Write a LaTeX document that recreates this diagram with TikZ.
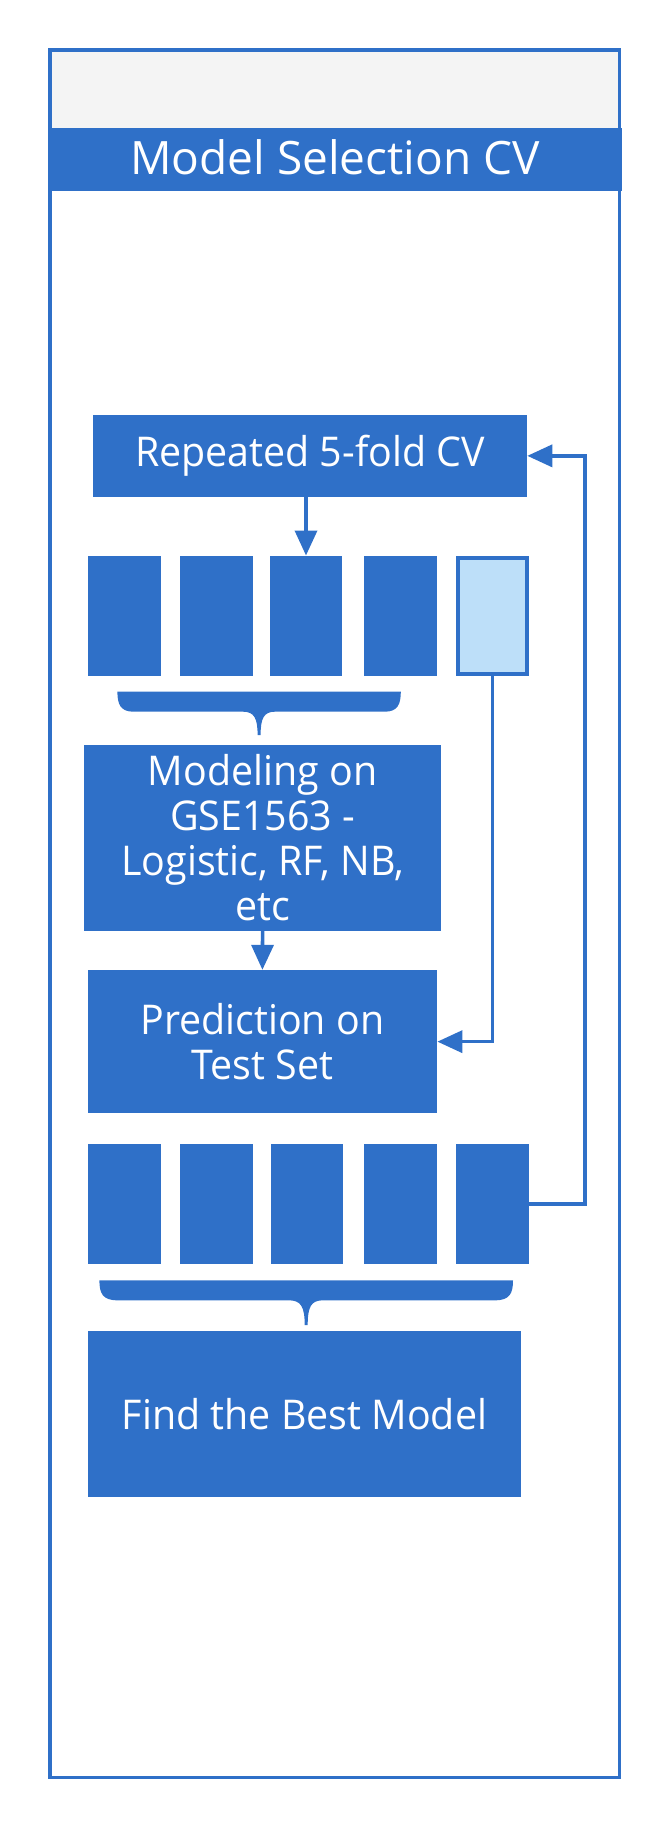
\documentclass[tikz,border=0pt]{standalone}
\usepackage{fontspec}
\setmainfont{Open Sans}
\newfontfamily\boxfont[FakeStretch=0.96]{Open Sans}
\usetikzlibrary{arrows.meta}
\definecolor{vblue}{HTML}{2F70C8}
\definecolor{vlight}{HTML}{BDDFF9}
\definecolor{vgray}{HTML}{F4F4F4}
\begin{document}
\begin{tikzpicture}[x=1pt,y=-1pt,
  blk/.style={fill=vblue, inner sep=0pt, text=white, align=center,
    font=\boxfont\fontsize{41}{45}\selectfont},
  fold/.style={fill=vblue, minimum width=72.4pt, minimum height=120pt, inner sep=0pt},
  testfold/.style={fill=vlight, draw=vblue, line width=4pt, minimum width=68.4pt, minimum height=116pt, inner sep=0pt},
  conn/.style={draw=vblue, line width=3.6pt, -{Triangle[length=25pt,width=22pt]}}]
\useasboundingbox (0,0) rectangle (670,1830);
% frame
\fill[vgray] (52,52) rectangle (617.5,127.7);
\fill[vblue] (48,127.7) rectangle (621.5,190.7);
\draw[vblue, line width=3.8pt] (50,50.2) rectangle (619.5,1777.4);
\node[text=white, anchor=base, font=\fontsize{46}{50}\selectfont] (title) at (335,175) {Model Selection CV};
% boxes
\node[blk, minimum width=434.2pt, minimum height=81.7pt] (rep) at (310,455.85) {Repeated 5-fold CV};
\node[fold] (f11) at (124.5,615.7) {};
\node[fold] (f12) at (216.6,615.7) {};
\node[fold] (f13) at (306,615.7) {};
\node[fold] (f14) at (400.6,615.7) {};
\node[testfold] (f15) at (492.6,615.7) {};
\node[blk, minimum width=356.9pt, minimum height=185.7pt] (mod) at (262.6,837.85) {Modeling on\\GSE1563 -\\Logistic, RF, NB,\\etc};
\node[blk, minimum width=349.6pt, minimum height=143.3pt] (pred) at (262.4,1041.65) {Prediction on\\Test Set};
\node[fold] (f21) at (124.5,1203.7) {};
\node[fold] (f22) at (216.6,1203.7) {};
\node[fold] (f23) at (306.8,1203.7) {};
\node[fold] (f24) at (400.6,1203.7) {};
\node[fold] (f25) at (492.6,1203.7) {};
\node[blk, minimum width=433.8pt, minimum height=165.7pt] (find) at (304.5,1413.85) {Find the Best Model};
% braces
\fill[vblue] (117.4,691.7) -- (400.8,691.7) .. controls (400.8,704) and (397.8,711.7) .. (384.8,711.7)
  -- (275,711.7) .. controls (264,711.7) and (260.6,718) .. (260.6,735) -- (257.6,735)
  .. controls (257.6,718) and (254,711.7) .. (243,711.7) -- (133.4,711.7)
  .. controls (120.4,711.7) and (117.4,704) .. cycle;
\fill[vblue] (99.4,1280.3) -- (513,1280.3) .. controls (513,1293) and (510,1300.3) .. (495,1300.3)
  -- (323,1300.3) .. controls (311,1300.3) and (307.7,1307) .. (307.7,1325) -- (304.7,1325)
  .. controls (304.7,1307) and (301,1300.3) .. (289,1300.3) -- (117.4,1300.3)
  .. controls (102.4,1300.3) and (99.4,1293) .. cycle;
% connectors
\coordinate (fb) at (584.8,455.85);
\draw[conn] (rep.south -| f13.north) -- (f13.north);
\draw[conn] (mod.south) -- (pred.north);
\draw[conn] (f15.south) |- (pred.east);
\draw[conn] (f25.east) -| (fb) -- (rep.east);
\end{tikzpicture}
\end{document}
